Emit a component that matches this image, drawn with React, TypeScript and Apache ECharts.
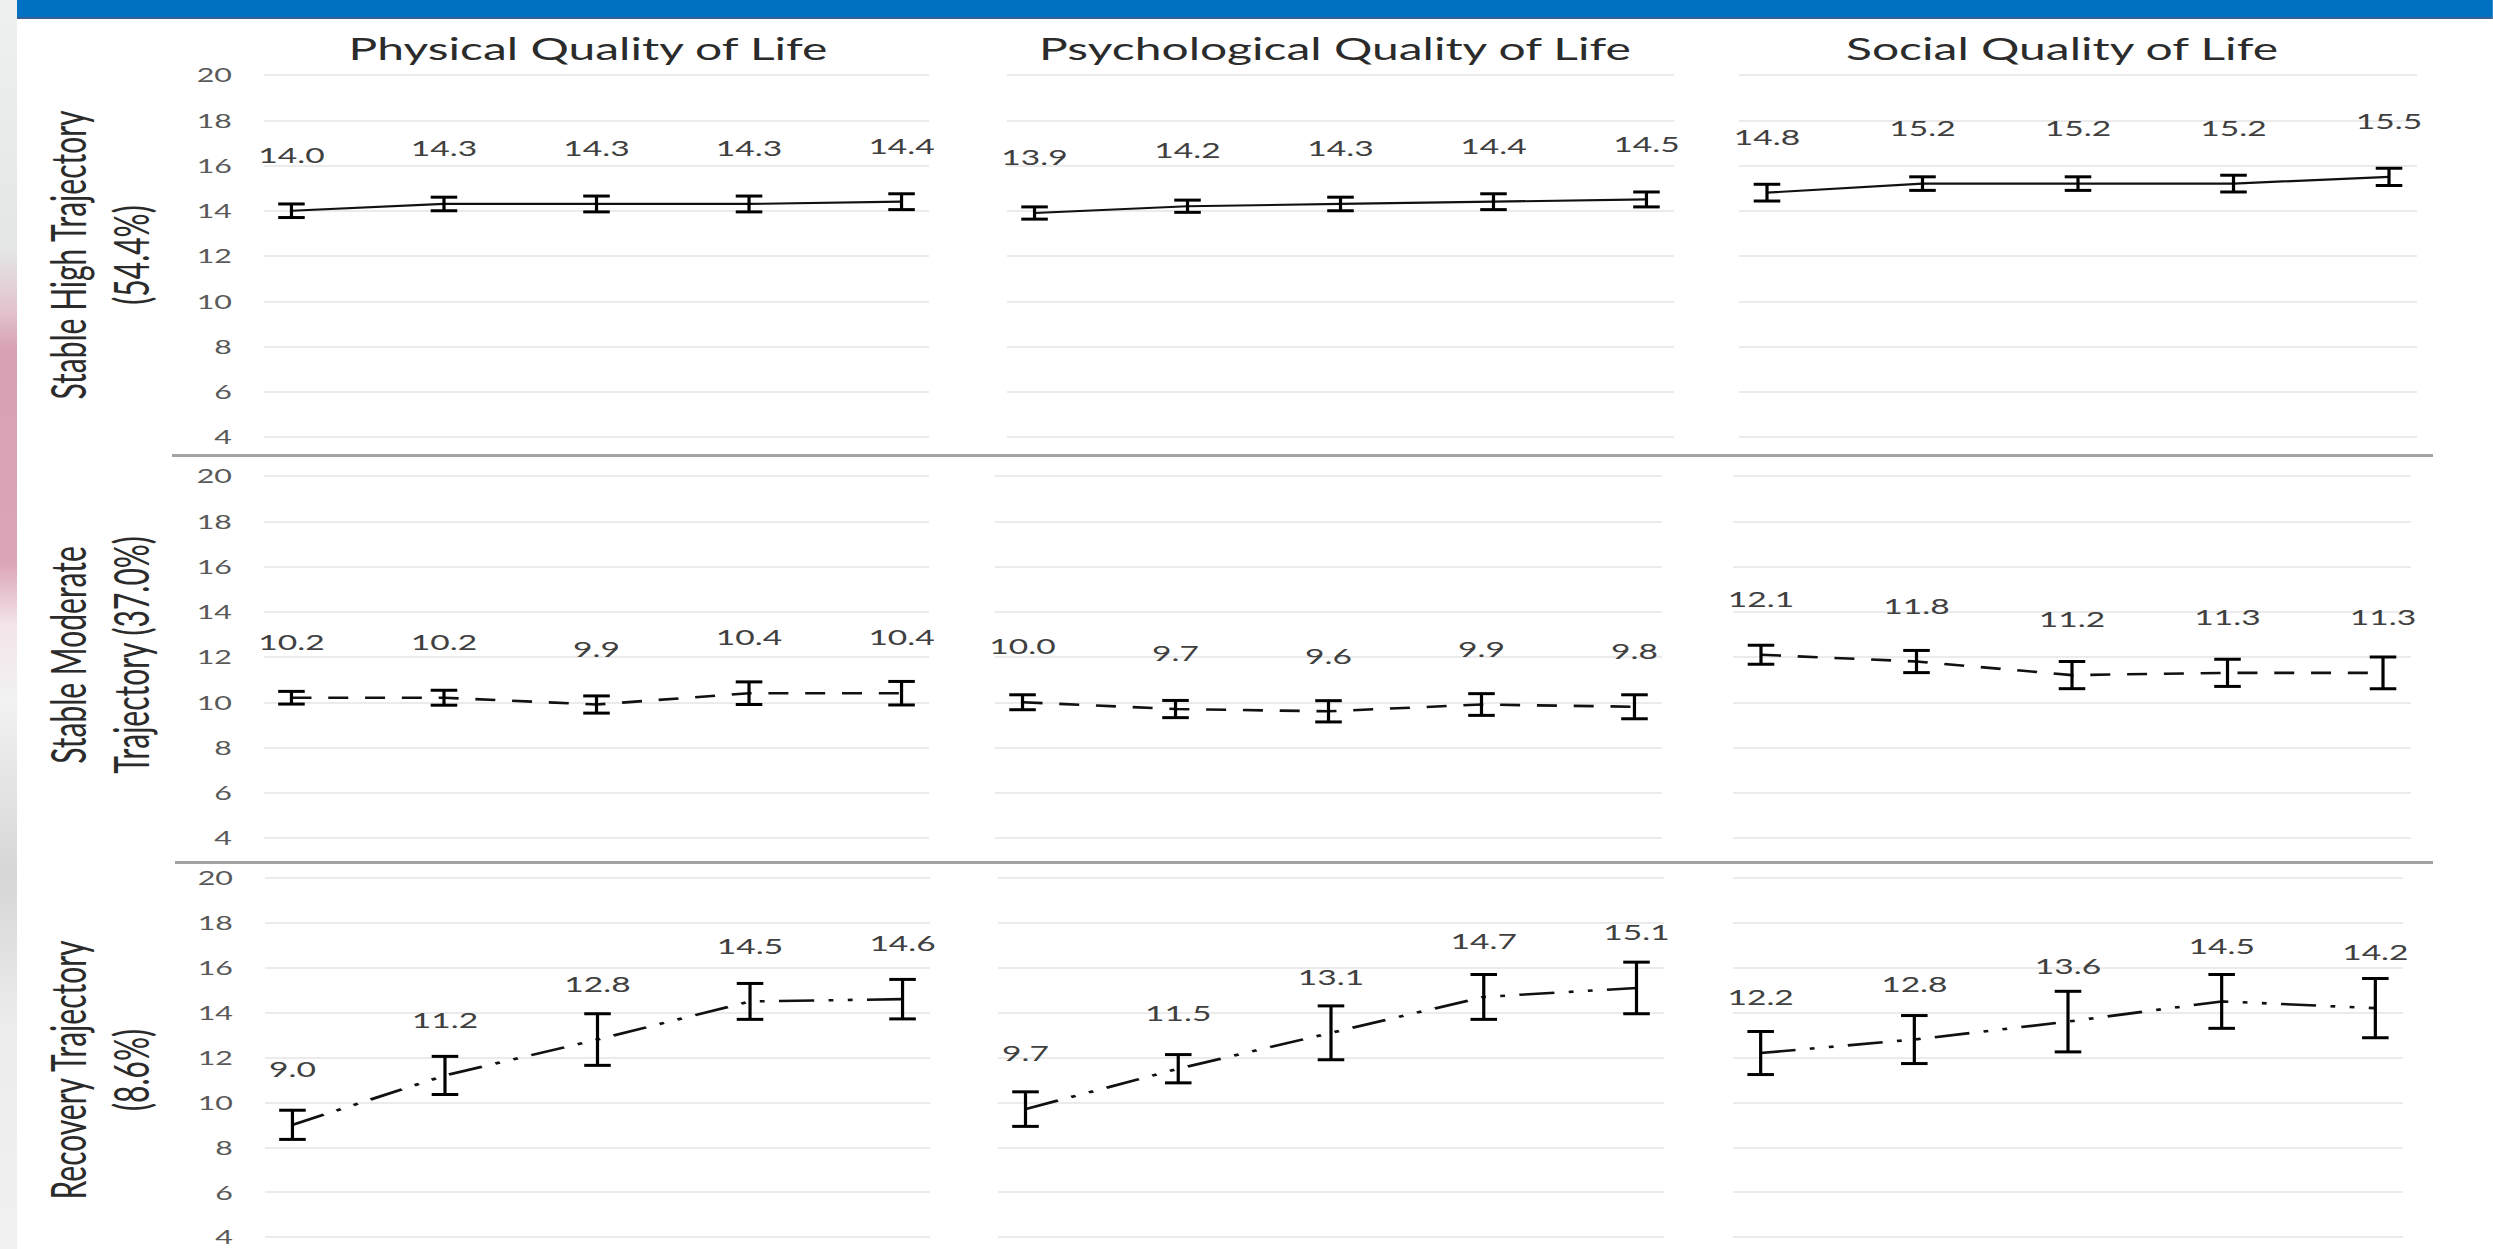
import React, { useEffect, useRef } from "react";
import * as echarts from "echarts";

// ---------- data ----------
const columnTitles = ["Physical Quality of Life", "Psychological Quality of Life", "Social Quality of Life"];
const rowTitles = ["Stable High Trajectory\n(54.4%)", "Stable Moderate\nTrajectory (37.0%)", "Recovery Trajectory\n(8.6%)"];
const timePoints = [0, 1, 2, 3, 4];

const highPhysical = [14.0, 14.3, 14.3, 14.3, 14.4];
const highPhysicalErr = [0.3, 0.3, 0.35, 0.35, 0.35];
const highPsych = [13.9, 14.2, 14.3, 14.4, 14.5];
const highPsychErr = [0.27, 0.27, 0.3, 0.35, 0.33];
const highSocial = [14.8, 15.2, 15.2, 15.2, 15.5];
const highSocialErr = [0.37, 0.3, 0.3, 0.37, 0.38];

const modPhysical = [10.2, 10.2, 9.9, 10.4, 10.4];
const modPhysicalErr = [0.28, 0.33, 0.38, 0.5, 0.52];
const modPsych = [10.0, 9.7, 9.6, 9.9, 9.8];
const modPsychErr = [0.33, 0.38, 0.47, 0.48, 0.53];
const modSocial = [12.1, 11.8, 11.2, 11.3, 11.3];
const modSocialErr = [0.42, 0.49, 0.6, 0.6, 0.7];

const recPhysical = [9.0, 11.2, 12.8, 14.5, 14.6];
const recPhysicalErr = [0.65, 0.85, 1.15, 0.8, 0.88];
const recPsych = [9.7, 11.5, 13.1, 14.7, 15.1];
const recPsychErr = [0.77, 0.63, 1.2, 1.0, 1.15];
const recSocial = [12.2, 12.8, 13.6, 14.5, 14.2];
const recSocialErr = [0.96, 1.07, 1.35, 1.2, 1.32];

const yMin = 4;
const yMax = 20;
const yStep = 2;

const means = [
  [highPhysical, highPsych, highSocial],
  [modPhysical, modPsych, modSocial],
  [recPhysical, recPsych, recSocial],
];
const errs = [
  [highPhysicalErr, highPsychErr, highSocialErr],
  [modPhysicalErr, modPsychErr, modSocialErr],
  [recPhysicalErr, recPsychErr, recSocialErr],
];

// ---------- layout (full-page pixels; drawn at 1/K width then stretched) ----------
const K = 1.6;
const FULL_W = 2493;
const H = 1249;
const W = FULL_W / K;
const FONT = "Lato, 'Open Sans', sans-serif";

const rowTop = [75, 476, 878];
const rowHeights = [362, 362, 359];
const colSpans = [
  [[264, 929], [1007, 1674], [1739, 2417]],
  [[264, 929], [995, 1662], [1733, 2411]],
  [[265, 930], [998, 1664], [1733, 2403]],
];
const titleCenters = [588, 1335, 2062];
const rowTitleCenters = [255, 655, 1070];
const lineTypes: any[] = ["solid", [12.5, 10.5], [22, 9, 3, 9, 3, 9]];
const lineWidths = [2.2, 2.6, 2.6];

function buildOption() {
  const grid: any[] = [];
  const xAxis: any[] = [];
  const yAxis: any[] = [];
  const series: any[] = [];
  for (let r = 0; r < 3; r++) {
    for (let c = 0; c < 3; c++) {
      const i = r * 3 + c;
      const [L, R] = colSpans[r][c];
      grid.push({ left: L / K, width: (R - L) / K, top: rowTop[r], height: rowHeights[r] });
      xAxis.push({ gridIndex: i, type: "value", min: -0.18, max: 4.18, show: false });
      yAxis.push({
        gridIndex: i,
        type: "value",
        min: yMin,
        max: yMax,
        interval: yStep,
        axisLine: { show: false },
        axisTick: { show: false },
        splitLine: { show: true, lineStyle: { color: "#e4e4e4", width: 1.5 } },
        axisLabel: {
          show: c === 0,
          color: "#595959",
          fontSize: 19,
          lineHeight: 17,
          fontFamily: FONT,
          margin: 20,
        },
      });
      const m = means[r][c];
      const e = errs[r][c];
      series.push({
        type: "line",
        xAxisIndex: i,
        yAxisIndex: i,
        data: timePoints.map((t, j) => [t, m[j]]),
        symbol: "none",
        silent: true,
        lineStyle: { color: "#111", width: lineWidths[r], type: lineTypes[r] },
        z: 2,
      });
      series.push({
        type: "custom",
        xAxisIndex: i,
        yAxisIndex: i,
        data: timePoints.map((t, j) => [t, m[j], e[j]]),
        z: 3,
        silent: true,
        renderItem: (params: any, api: any) => {
          const x = api.value(0);
          const mv = api.value(1);
          const ev = api.value(2);
          const top = api.coord([x, mv + ev]);
          const bot = api.coord([x, mv - ev]);
          const mid = api.coord([x, mv]);
          const hw = 8.3;
          return {
            type: "group",
            children: [
              { type: "line", shape: { x1: top[0], y1: top[1], x2: bot[0], y2: bot[1] }, style: { stroke: "#000", lineWidth: 2 } },
              { type: "line", shape: { x1: top[0] - hw, y1: top[1], x2: top[0] + hw, y2: top[1] }, style: { stroke: "#000", lineWidth: 3 } },
              { type: "line", shape: { x1: bot[0] - hw, y1: bot[1], x2: bot[0] + hw, y2: bot[1] }, style: { stroke: "#000", lineWidth: 3 } },
              {
                type: "text",
                x: mid[0],
                y: mid[1] - 56,
                style: {
                  text: Number(mv).toFixed(1),
                  fill: "#404040",
                  fontSize: 21,
                  fontFamily: FONT,
                  textAlign: "center",
                  textVerticalAlign: "middle",
                  align: "center",
                  verticalAlign: "middle",
                },
              },
            ],
          };
        },
      });
    }
  }

  const graphic: any[] = [
    { type: "rect", shape: { x: 17 / K, y: 0, width: W, height: 17 }, style: { fill: "#0070c0" }, silent: true },
    { type: "rect", shape: { x: 17 / K, y: 17, width: W, height: 2 }, style: { fill: "#3a5f96" }, silent: true },
    {
      type: "rect",
      shape: { x: 0, y: 0, width: 17 / K, height: H },
      style: {
        fill: new echarts.graphic.LinearGradient(0, 0, 0, 1, [
          { offset: 0, color: "#eef1f0" },
          { offset: 0.2, color: "#e4e6e5" },
          { offset: 0.25, color: "#e2c2ce" },
          { offset: 0.28, color: "#d9a1b4" },
          { offset: 0.45, color: "#dba4b7" },
          { offset: 0.5, color: "#f3e4ea" },
          { offset: 0.56, color: "#f2f2f2" },
          { offset: 0.7, color: "#d6d6d6" },
          { offset: 0.82, color: "#ececec" },
          { offset: 1, color: "#f1f1f1" },
        ]),
      },
      silent: true,
    },
    { type: "rect", shape: { x: 172 / K, y: 454, width: (2433 - 172) / K, height: 3 }, style: { fill: "#a3a3a3" }, silent: true },
    { type: "rect", shape: { x: 175 / K, y: 861, width: (2433 - 175) / K, height: 3 }, style: { fill: "#a3a3a3" }, silent: true },
  ];
  columnTitles.forEach((t, c) => {
    graphic.push({
      type: "text",
      x: titleCenters[c] / K,
      y: 49,
      silent: true,
      style: {
        text: t,
        fill: "#2b2b2b",
        fontSize: 30,
        fontFamily: FONT,
        textAlign: "center",
        textVerticalAlign: "middle",
        align: "center",
        verticalAlign: "middle",
      },
    });
  });
  rowTitles.forEach((t, r) => {
    graphic.push({
      type: "text",
      x: 100 / K,
      y: rowTitleCenters[r],
      rotation: Math.PI / 2,
      silent: true,
      style: {
        text: t,
        fill: "#2b2b2b",
        fontSize: 30,
        lineHeight: 63 / K,
        fontFamily: FONT,
        textAlign: "center",
        textVerticalAlign: "middle",
        align: "center",
        verticalAlign: "middle",
      },
    });
  });

  return {
    animation: false,
    backgroundColor: "#ffffff",
    grid,
    xAxis,
    yAxis,
    series,
    graphic: { elements: graphic },
  };
}

export default function App() {
  const ref = useRef<HTMLDivElement>(null);
  useEffect(() => {
    document.body.style.margin = "0";
    document.body.style.overflow = "hidden";
    const chart = echarts.init(ref.current as HTMLDivElement, null, { renderer: "svg", width: W, height: H });
    chart.setOption(buildOption() as any);
    return () => chart.dispose();
  }, []);
  return (
    <div
      ref={ref}
      style={{
        position: "absolute",
        left: 0,
        top: 0,
        width: W + "px",
        height: H + "px",
        transform: `scaleX(${K})`,
        transformOrigin: "0 0",
        background: "#fff",
      }}
    />
  );
}
